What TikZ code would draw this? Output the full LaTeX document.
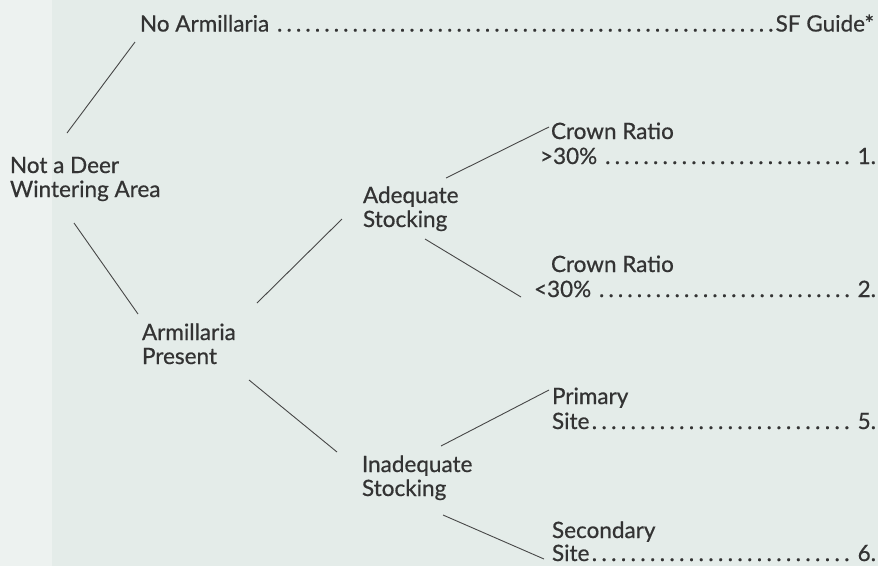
\documentclass[tikz,border=0pt]{standalone}
\usepackage{fontspec}
\setmainfont{Lato}[FakeBold=0.6]
\definecolor{bg}{HTML}{E4ECE9}
\definecolor{bgl}{HTML}{EDF2F0}
\definecolor{ink}{HTML}{333333}
\definecolor{rule}{HTML}{474747}
\newcommand\leadline[3]{\hbox to #1pt{#2\xleaders\hbox to 9.4pt{\hss.\hss}\hfill #3}}
\tikzset{
  lbl/.style={anchor=base west, inner sep=0pt, outer sep=0pt, text=ink,
              font=\fontsize{22.5}{24}\selectfont},
  conn/.style={draw=rule, line width=0.9pt}
}
\begin{document}
\begin{tikzpicture}[x=1pt,y=-1pt]
\fill[bg] (0,0) rectangle (878,566);
\fill[bgl] (0,0) rectangle (52,566);
\useasboundingbox (0,0) rectangle (878,566);

% text
\node[lbl] (noarm) at (140,31.5) {\leadline{734}{No Armillaria\ }{SF Guide*}};
\node[lbl] (deer1) at (10,173) {Not a Deer};
\node[lbl] (deer2) at (10,197) {Wintering Area};
\node[lbl] (arm1) at (142,340) {Armillaria};
\node[lbl] (arm2) at (142,364) {Present};
\node[lbl] (ad1) at (363,203) {Adequate};
\node[lbl] (ad2) at (363,227) {Stocking};
\node[lbl] (in1) at (362,472) {Inadequate};
\node[lbl] (in2) at (362,496) {Stocking};
\node[lbl] (cra1) at (551,139) {Crown Ratio};
\node[lbl] (cra2) at (540,164) {\leadline{336}{>30\%\ }{\ 1.}};
\node[lbl] (crb1) at (551,272) {Crown Ratio};
\node[lbl] (crb2) at (534,297) {\leadline{342}{<30\%\ }{\ 2.}};
\node[lbl] (pr1) at (552,404) {Primary};
\node[lbl] (pr2) at (552,429) {\leadline{324}{Site}{\ 5.}};
\node[lbl] (se1) at (552,538) {Secondary};
\node[lbl] (se2) at (552,561) {\leadline{324}{Site}{\ 6.}};

% connector end points
\coordinate (c1a) at (135,42);  \coordinate (c1b) at (67,133);
\coordinate (c2a) at (74,223);  \coordinate (c2b) at (138,314);
\coordinate (c3a) at (257,303); \coordinate (c3b) at (342,219);
\coordinate (c4a) at (446,178); \coordinate (c4b) at (549,127);
\coordinate (c5a) at (425,239); \coordinate (c5b) at (521,297);
\coordinate (c6a) at (249,380); \coordinate (c6b) at (337,452);
\coordinate (c7a) at (441,446); \coordinate (c7b) at (549,390);
\coordinate (c8a) at (443,515); \coordinate (c8b) at (544,559);

\draw[conn] (c1a) -- (c1b);
\draw[conn] (c2a) -- (c2b);
\draw[conn] (c3a) -- (c3b);
\draw[conn] (c4a) -- (c4b);
\draw[conn] (c5a) -- (c5b);
\draw[conn] (c6a) -- (c6b);
\draw[conn] (c7a) -- (c7b);
\draw[conn] (c8a) -- (c8b);
\end{tikzpicture}
\end{document}
